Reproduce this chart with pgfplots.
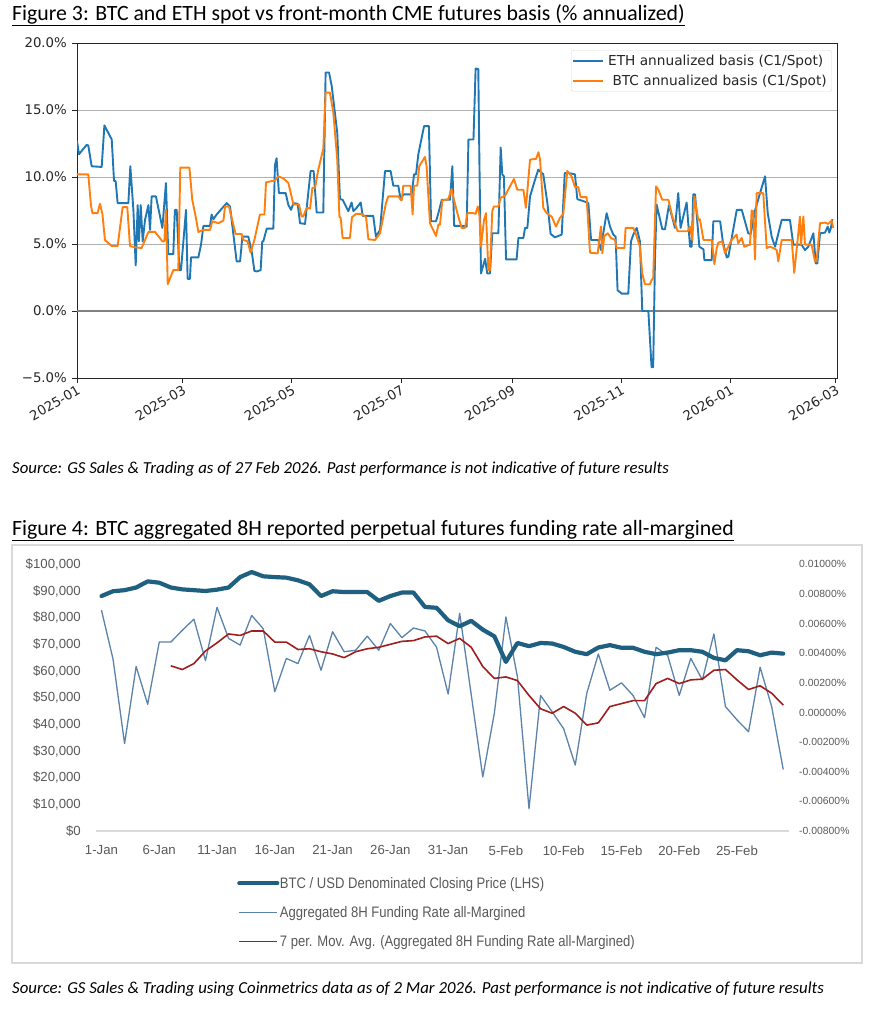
\documentclass[border=0pt]{standalone}
\usepackage{pgfplots}
\pgfplotsset{compat=1.18}
\usepackage{pgfplotstable}
\usepackage{fontspec}
\setmainfont{Carlito}
\newfontfamily\dejavu{DejaVu Sans}
\newfontfamily\libsans{Liberation Sans}
\newfontfamily\narrow[FakeStretch=0.86]{Liberation Sans}

\definecolor{mplblue}{HTML}{1F77B4}
\definecolor{mplorange}{HTML}{FF7F0E}
\definecolor{gridgray}{HTML}{B0B0B0}
\definecolor{zerogray}{HTML}{808080}
\definecolor{btcteal}{HTML}{1F6080}
\definecolor{fundblue}{HTML}{5A82AA}
\definecolor{mared}{HTML}{A01E1E}
\definecolor{lblgray}{HTML}{595959}
\definecolor{framegray}{HTML}{D9D9D9}

% Figure 4: day index from 1 Jan, BTC close (USD), 8H funding rate (%), 7-per moving average (%)
\pgfplotstableread{
day price funding ma
0 88100 0.00690 nan
1 89900 0.00360 nan
2 90300 -0.00210 nan
3 91300 0.00310 nan
4 93600 0.00055 nan
5 93100 0.00475 nan
6 91300 0.00475 0.00315
7 90600 0.00555 0.00290
8 90300 0.00630 0.00330
9 90000 0.00350 0.00415
10 90500 0.00710 0.00470
11 91300 0.00500 0.00530
12 95200 0.00455 0.00520
13 97100 0.00655 0.00550
14 95500 0.00565 0.00550
15 95200 0.00140 0.00475
16 95000 0.00365 0.00475
17 94000 0.00330 0.00425
18 92500 0.00520 0.00430
19 88100 0.00285 0.00410
20 89900 0.00545 0.00395
21 89600 0.00410 0.00370
22 89600 0.00420 0.00410
23 89600 0.00515 0.00430
24 86300 0.00420 0.00440
25 88100 0.00600 0.00460
26 89400 0.00505 0.00480
27 89400 0.00570 0.00485
28 84000 0.00550 0.00510
29 83700 0.00440 0.00515
30 79000 0.00125 0.00465
31 76800 0.00670 0.00500
32 78800 0.00120 0.00440
33 75500 -0.00435 0.00310
34 73000 -0.00005 0.00230
35 63400 0.00645 0.00240
36 70500 0.00240 0.00215
37 69300 -0.00650 0.00115
38 70500 0.00115 0.00025
39 70300 0.00005 -0.00005
40 69000 -0.00110 0.00040
41 67200 -0.00355 -0.00005
42 66300 0.00130 -0.00085
43 68800 0.00395 -0.00070
44 69700 0.00150 0.00040
45 68700 0.00200 0.00060
46 68700 0.00115 0.00080
47 67200 -0.00035 0.00080
48 66300 0.00440 0.00195
49 66900 0.00385 0.00230
50 67800 0.00115 0.00195
51 67800 0.00365 0.00220
52 67200 0.00220 0.00225
53 64900 0.00530 0.00285
54 64000 0.00040 0.00290
55 67800 -0.00050 0.00220
56 67400 -0.00130 0.00155
57 65900 0.00305 0.00180
58 66900 0.00040 0.00130
59 66500 -0.00385 0.00050
}\fundtable

\begin{document}
\begin{tikzpicture}
\path[use as bounding box] (0,0) rectangle (873bp,-1010bp);

% ---------- Figure 3 ----------
\node[anchor=base west, inner sep=0pt, font=\fontsize{21.8bp}{24bp}\selectfont] at (12bp,-20bp)
  {\underline{Figure 3: BTC and ETH spot vs front-month CME futures basis (\% annualized)}};

\begin{axis}[
  at={(77bp,-378bp)}, anchor=south west, scale only axis,
  width=760bp, height=335bp,
  xmin=0, xmax=424.6, ymin=-5, ymax=20,
  axis line style={black!85, line width=0.9bp},
  tick align=outside, major tick length=4.5bp,
  tick style={black!85, line width=0.9bp},
  xtick pos=left, ytick pos=left,
  xtick={0,59,120,181,243,304,365,424},
  xticklabels={2025-01,2025-03,2025-05,2025-07,2025-09,2025-11,2026-01,2026-03},
  xticklabel style={rotate=30, anchor=north east, inner sep=1.5bp,
    font=\dejavu\fontsize{13.3bp}{15bp}\selectfont, text=black!85},
  ytick={-5,0,5,10,15,20},
  yticklabels={−5.0\%,0.0\%,5.0\%,10.0\%,15.0\%,20.0\%},
  yticklabel style={anchor=east, inner sep=1.5bp, xshift=-4bp,
    font=\dejavu\fontsize{13.3bp}{15bp}\selectfont, text=black!85},
  ymajorgrids, grid style={gridgray, line width=0.9bp},
  legend cell align=left,
  legend image code/.code={\draw[#1] (0bp,0bp) -- (30bp,0bp);},
  legend style={at={(0.9934,0.979)}, anchor=north east, draw=black!15,
    rounded corners=2.5bp, fill=white,
    font=\dejavu\fontsize{13.7bp}{15bp}\selectfont, text=black!85,
    inner xsep=1bp, inner ysep=4.5bp, row sep=8.5bp,
    nodes={inner xsep=4bp, inner ysep=0pt}},
]
\addplot[zerogray, line width=1.6bp, forget plot] coordinates {(0,0) (424.6,0)};

\addplot[draw=mplblue, line width=1.9bp, line join=round] coordinates {
(0,12.7)(1.1,11.7)(5.4,12.4)(6.3,12.35)(8.2,10.8)(13.8,10.75)(15.3,13.85)(19.4,12.8)(20.7,9.7)(21.6,9.7)
(22.7,8.05)(28.7,8.05)(29.8,10.8)(31.5,7.55)(32.8,3.4)(33.9,7.9)(34.6,5.2)(35.6,7.9)(36.7,5.2)(38.0,6.8)
(39.9,7.9)(40.8,6.05)(41.7,8.55)(44.1,8.55)(47.7,6.2)(49.7,9.55)(51.0,4.25)(53.8,4.25)(54.7,7.55)(55.7,7.55)
(57.2,3.05)(58.1,3.05)(60.9,7.55)(61.8,2.4)(63.1,2.4)(63.7,4.0)(67.8,4.0)(69.3,4.95)(70.6,6.35)(74.3,6.35)
(75.2,7.2)(76.2,6.85)(78.0,7.2)(83.6,8.05)(85.5,7.8)(87.3,5.8)(89.2,3.7)(91.1,3.7)(92.4,5.55)(95.7,5.55)
(97.6,4.45)(99.1,3.0)(100.4,2.95)(102.6,3.05)(103.5,5.2)(104.1,5.2)(106.0,6.15)(109.7,6.15)(110.6,10.9)(111.5,11.4)
(112.8,8.8)(116.6,8.8)(118.1,7.9)(119.6,7.55)(120.9,8.05)(123.3,8.0)(124.6,6.55)(127.4,6.5)(130.5,10.45)(132.2,10.45)
(133.9,7.35)(137.6,7.35)(138.9,17.8)(140.8,17.8)(142.3,16.8)(145.4,13.3)(146.9,8.35)(148.4,8.3)(150.3,7.8)(151.6,7.45)
(153.4,8.1)(154.4,7.45)(156.2,7.7)(158.5,8.1)(159.6,7.1)(165.5,7.1)(167.0,5.55)(169.3,6.05)(172.1,10.45)(175.2,10.45)
(176.7,9.35)(179.5,9.35)(180.8,8.3)(182.3,8.7)(187.0,8.7)(188.3,10.2)(189.4,10.2)(190.7,11.7)(193.9,13.8)(196.6,13.8)
(197.8,6.7)(200.6,6.7)(201.9,7.3)(203.8,8.3)(208.4,8.3)(209.7,10.8)(210.7,6.35)(215.8,6.35)(217.7,6.3)(218.7,12.8)
(221.5,12.8)(222.7,18.1)(224.2,18.05)(224.8,11.3)(225.7,2.8)(228.0,3.9)(229.2,2.8)(230.7,2.8)(232.0,5.8)(235.4,5.8)
(236.7,12.2)(237.6,10.2)(238.5,10.05)(239.7,3.85)(245.6,3.85)(246.6,5.45)(249.4,5.45)(250.3,6.2)(251.6,6.2)(253.1,8.55)
(255.9,9.8)(257.7,10.55)(260.5,10.2)(262.8,8.05)(264.6,5.75)(267.0,5.5)(270.8,5.7)(272.5,10.3)(274.4,10.3)(278.2,10.2)
(279.5,8.35)(282.9,8.2)(285.7,8.05)(287.2,5.3)(291.2,5.3)(292.7,4.55)(294.0,5.8)(295.9,7.3)(297.8,6.3)(299.6,5.7)
(300.9,5.55)(302.0,1.55)(304.3,1.3)(308.0,1.3)(309.5,5.2)(310.8,5.7)(312.7,6.2)(314.5,5.2)(315.8,0)(319.2,0)
(321.0,-4.2)(321.9,-4.2)(322.9,3.8)(323.8,7.95)(327.0,6.1)(328.5,6.1)(330.7,7.9)(334.1,6.2)(335.9,8.8)(337.2,6.2)
(340.6,8.1)(342.5,4.8)(343.4,4.8)(344.3,8.7)(345.3,8.7)(347.7,4.8)(350.0,4.6)(350.5,3.8)(354.6,3.8)(355.5,6.7)
(359.3,6.7)(360.8,5.2)(363.0,4.0)(363.9,4.05)(368.6,7.55)(371.4,7.55)(375.0,5.8)(376.4,5.75)(378.8,7.5)(381.6,8.8)
(384.4,10.05)(385.9,7.3)(388.1,5.55)(390.0,4.8)(393.7,6.8)(398.3,6.8)(400.2,4.95)(404.8,4.95)(406.7,4.55)(408.6,4.8)
(411.4,5.8)(412.7,3.55)(413.6,3.55)(415.1,5.8)(417.9,5.85)(419.4,6.3)(420.3,5.85)(421.2,6.2)(422.0,6.85)
};
\addlegendentry{ETH annualized basis (C1/Spot)}

\addplot[draw=mplorange, line width=1.9bp, line join=round] coordinates {
(0,10.2)(6.3,10.2)(7.8,7.9)(8.6,7.3)(11.5,7.3)(12.8,8.0)(14.2,7.25)(15.6,5.3)(19.4,4.85)(22.7,4.85)
(25.5,7.75)(28.1,7.75)(29.6,4.85)(32.4,4.75)(36.1,4.7)(39.9,5.9)(43.6,5.9)(47.7,5.2)(48.8,5.2)(49.7,7.55)
(50.7,2.0)(53.8,3.05)(56.6,3.05)(57.7,10.7)(62.8,10.7)(64.4,8.3)(66.3,7.05)(67.8,5.9)(70.6,6.05)(74.3,6.05)
(75.6,6.7)(79.0,6.55)(81.8,6.75)(82.7,7.8)(84.9,7.8)(88.6,5.75)(92.0,5.75)(92.9,5.3)(95.3,5.2)(97.0,4.35)
(99.1,5.3)(102.2,7.2)(104.7,7.2)(105.6,9.6)(110.6,9.75)(112.5,10.05)(115.3,9.9)(118.1,9.55)(120.9,7.95)(124.0,7.95)
(125.5,7.05)(126.4,7.05)(128.3,7.7)(130.2,7.65)(131.5,9.2)(133.0,9.2)(134.8,10.55)(137.6,12.1)(138.9,16.3)(141.3,16.3)
(143.2,14.8)(145.4,11.3)(146.6,7.05)(147.3,6.95)(148.4,5.45)(152.5,5.45)(153.6,7.0)(155.9,7.25)(159.0,7.25)(161.5,7.0)
(162.8,5.35)(166.5,5.3)(169.3,5.8)(172.6,8.05)(173.9,8.55)(179.5,8.55)(181.4,8.25)(182.3,9.35)(186.4,9.35)(187.5,7.2)
(188.3,9.35)(190.1,9.35)(191.2,10.8)(194.4,11.5)(195.3,10.8)(197.2,6.55)(200.6,5.6)(201.9,6.45)(202.8,6.45)(204.1,8.25)
(207.4,8.35)(209.3,9.1)(210.6,8.3)(213.0,7.05)(214.9,6.2)(216.8,6.2)(218.1,7.3)(221.5,7.3)(222.7,7.25)(223.9,7.8)
(224.8,7.2)(225.7,4.8)(227.4,6.8)(228.5,7.3)(229.8,3.05)(230.7,3.05)(232.0,7.45)(232.9,7.8)(235.4,7.8)(236.7,8.45)
(239.1,8.6)(241.9,9.3)(244.1,9.85)(246.0,9.05)(249.4,9.05)(250.8,7.7)(253.1,11.3)(256.5,11.35)(257.8,11.85)(258.7,11.3)
(260.5,7.7)(262.4,7.3)(265.2,7.05)(267.6,6.3)(269.8,6.95)(271.7,7.25)(273.9,10.45)(276.3,10.05)(278.2,9.25)(280.0,9.25)
(281.4,8.5)(284.7,8.5)(286.6,4.35)(290.9,4.3)(292.7,6.3)(293.5,4.3)(294.6,5.6)(296.5,5.8)(298.3,5.45)(300.6,5.3)
(301.5,4.7)(305.8,4.7)(306.5,6.2)(310.8,6.2)(312.1,5.8)(314.5,4.8)(315.8,2.8)(317.3,2.0)(320.1,2.0)(321.0,2.3)
(321.9,2.45)(323.5,9.3)(324.8,9.05)(327.0,8.3)(330.4,8.3)(332.6,7.05)(335.6,5.95)(341.2,5.95)(342.4,6.3)(343.8,5.3)
(344.9,8.55)(347.1,6.8)(348.0,6.85)(350.0,5.3)(354.6,5.3)(356.1,3.5)(357.4,4.7)(358.3,5.1)(360.5,5.2)(362.0,4.3)
(365.7,5.3)(368.5,5.7)(369.4,5.05)(371.3,5.45)(372.8,4.8)(376.0,4.95)(376.9,7.5)(377.8,7.45)(378.8,3.85)(379.7,8.8)
(383.4,8.8)(385.3,4.7)(387.2,4.8)(389.0,4.7)(390.9,4.55)(391.8,3.7)(393.7,5.3)(399.3,5.3)(400.7,2.85)(402.6,5.3)
(403.9,7.05)(404.5,4.95)(405.8,7.05)(406.7,4.95)(410.4,4.95)(412.3,3.7)(413.2,3.7)(415.1,6.55)(417.9,6.6)(419.7,6.5)
(421.6,6.75)(422.5,6.2)
};
\addlegendentry{\ BTC annualized basis (C1/Spot)}
\end{axis}

\node[anchor=base west, inner sep=0pt, font=\itshape\fontsize{16.8bp}{18bp}\selectfont] at (12bp,-473bp)
  {Source: GS Sales \& Trading as of 27 Feb 2026. Past performance is not indicative of future results};

% ---------- Figure 4 ----------
\node[anchor=base west, inner sep=0pt, font=\fontsize{21.8bp}{24bp}\selectfont] at (12bp,-535bp)
  {\underline{Figure 4: BTC aggregated 8H reported perpetual futures funding rate all-margined}};
\draw[framegray, line width=1.5bp] (12bp,-545bp) rectangle (862bp,-963bp);

% right axis: funding rate and its moving average
\begin{axis}[
  at={(95.7bp,-831bp)}, anchor=south west, scale only axis,
  width=693.3bp, height=266.7bp,
  xmin=-0.5, xmax=59.5, ymin=-0.008, ymax=0.01,
  axis x line=none, axis y line*=right, y axis line style={draw=none},
  major tick length=0pt, scaled y ticks=false,
  ytick={-0.008,-0.006,-0.004,-0.002,0,0.002,0.004,0.006,0.008,0.01},
  yticklabels={-0.00800\%,-0.00600\%,-0.00400\%,-0.00200\%,0.00000\%,0.00200\%,0.00400\%,0.00600\%,0.00800\%,0.01000\%},
  yticklabel style={anchor=west, inner sep=0pt, xshift=10bp,
    font=\libsans\fontsize{10.4bp}{12bp}\selectfont, text=lblgray},
  legend cell align=left,
  legend image code/.code={\draw[#1] (0bp,0bp) -- (38bp,0bp);},
  legend style={at={(0.2038,-0.172)}, anchor=north west, draw=none, fill=none,
    inner sep=0pt, row sep=16.5bp,
    font=\narrow\fontsize{15.2bp}{16bp}\selectfont, text=lblgray,
    nodes={inner xsep=0.5bp, inner ysep=0pt}},
]
\addlegendimage{draw=btcteal, line width=4.2bp, line cap=round}
\addplot[draw=fundblue, line width=1.3bp, line join=round] table[x=day, y=funding] {\fundtable};
\addplot[draw=mared, line width=1.6bp, line join=round, unbounded coords=jump] table[x=day, y=ma] {\fundtable};
\legend{BTC / USD Denominated Closing Price (LHS),Aggregated 8H Funding Rate all-Margined,7 per. Mov. Avg. (Aggregated 8H Funding Rate all-Margined)}
\end{axis}

% left axis: BTC price
\begin{axis}[
  at={(95.7bp,-831bp)}, anchor=south west, scale only axis,
  width=693.3bp, height=266.7bp,
  xmin=-0.5, xmax=59.5, ymin=0, ymax=100000,
  axis x line*=bottom, axis y line*=left, y axis line style={draw=none},
  x axis line style={framegray, line width=1.4bp, -},
  major tick length=0pt, scaled y ticks=false,
  xtick={0,5,10,15,20,25,30,35,40,45,50,55},
  xticklabels={1-Jan,6-Jan,11-Jan,16-Jan,21-Jan,26-Jan,31-Jan,5-Feb,10-Feb,15-Feb,20-Feb,25-Feb},
  xticklabel style={anchor=north, inner sep=0pt, yshift=-14.5bp,
    font=\libsans\fontsize{13.2bp}{15bp}\selectfont, text=lblgray},
  ytick={0,10000,20000,30000,40000,50000,60000,70000,80000,90000,100000},
  yticklabels={\$0,{\$10,000},{\$20,000},{\$30,000},{\$40,000},{\$50,000},{\$60,000},{\$70,000},{\$80,000},{\$90,000},{\$100,000}},
  yticklabel style={anchor=east, inner sep=0pt, xshift=-14.7bp,
    font=\libsans\fontsize{13.2bp}{15bp}\selectfont, text=lblgray},
]
\addplot[draw=btcteal, line width=4.2bp, line join=round, line cap=round] table[x=day, y=price] {\fundtable};
\end{axis}

\node[anchor=base west, inner sep=0pt, font=\itshape\fontsize{16.8bp}{18bp}\selectfont] at (12bp,-993bp)
  {Source: GS Sales \& Trading using Coinmetrics data as of 2 Mar 2026. Past performance is not indicative of future results};
\end{tikzpicture}
\end{document}
